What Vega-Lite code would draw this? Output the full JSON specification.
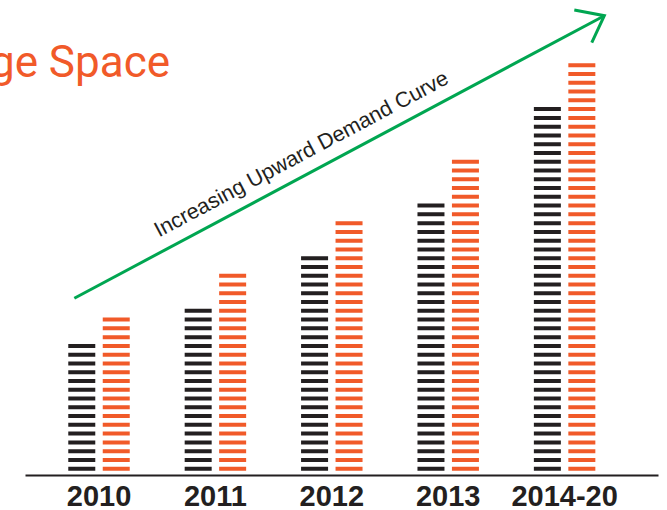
{
  "$schema": "https://vega.github.io/schema/vega-lite/v6.json",
  "width": 633,
  "height": 475,
  "autosize": "none",
  "padding": {"left": 25, "top": 0, "right": 9, "bottom": 35},
  "background": "white",
  "title": {
    "text": "Storage Space",
    "anchor": "start",
    "frame": "group",
    "align": "right",
    "baseline": "alphabetic",
    "dx": 145,
    "dy": 121,
    "offset": 0,
    "font": "Roboto",
    "fontSize": 44,
    "fontWeight": "normal",
    "color": "#f15a29"
  },
  "datasets": {
    "bars": [
      {"year": "2010", "series": "A", "dashes": 15},
      {"year": "2010", "series": "B", "dashes": 18},
      {"year": "2011", "series": "A", "dashes": 19},
      {"year": "2011", "series": "B", "dashes": 23},
      {"year": "2012", "series": "A", "dashes": 25},
      {"year": "2012", "series": "B", "dashes": 29},
      {"year": "2013", "series": "A", "dashes": 31},
      {"year": "2013", "series": "B", "dashes": 36},
      {"year": "2014-20", "series": "A", "dashes": 42},
      {"year": "2014-20", "series": "B", "dashes": 47}
    ],
    "arrow": [
      {"part": "shaft", "ord": 0, "xi": -0.212, "v": 20.15},
      {"part": "shaft", "ord": 1, "xi": 4.341, "v": 52.37},
      {"part": "head", "ord": 0, "xi": 4.083, "v": 53.02},
      {"part": "head", "ord": 1, "xi": 4.341, "v": 52.37},
      {"part": "head", "ord": 2, "xi": 4.233, "v": 49.29}
    ],
    "label": [
      {"text": "Increasing Upward Demand Curve", "xi": 1.765, "v": 35.9}
    ]
  },
  "layer": [
    {
      "data": {"name": "bars"},
      "mark": {"type": "rule", "strokeWidth": 27, "strokeDash": [4, 4.77], "strokeDashOffset": 8.3, "strokeCap": "butt"},
      "encoding": {
        "x": {
          "field": "year", "type": "nominal", "sort": null,
          "scale": {"paddingInner": 0.467, "paddingOuter": 0.4526, "align": 0.408},
          "axis": {
            "title": null, "labelAngle": 0, "ticks": false, "labelPadding": 7,
            "labelFont": "Liberation Sans", "labelFontWeight": "bold", "labelFontSize": 29,
            "labelColor": "#231f20", "domainColor": "#231f20", "domainWidth": 2, "grid": false
          }
        },
        "xOffset": {"field": "series", "type": "nominal", "sort": ["A", "B"], "scale": {"paddingInner": 0.2, "paddingOuter": 0}},
        "y": {"field": "dashes", "type": "quantitative", "scale": {"domain": [0, 54.16], "nice": false, "zero": false}, "axis": null},
        "y2": {"datum": 0},
        "color": {"field": "series", "type": "nominal", "scale": {"domain": ["A", "B"], "range": ["#231f20", "#f15a29"]}, "legend": null}
      }
    },
    {
      "data": {"name": "arrow"},
      "mark": {"type": "line", "stroke": "#00a651", "strokeWidth": 3, "strokeJoin": "miter", "strokeCap": "butt"},
      "encoding": {
        "x": {"field": "xi", "type": "quantitative", "scale": {"domain": [-0.636, 4.802], "nice": false, "zero": false}, "axis": null},
        "y": {"field": "v", "type": "quantitative", "scale": {"domain": [0, 54.16], "nice": false, "zero": false}, "axis": null},
        "detail": {"field": "part"},
        "order": {"field": "ord"}
      }
    },
    {
      "data": {"name": "label"},
      "mark": {"type": "text", "angle": -28, "align": "center", "baseline": "alphabetic", "font": "Liberation Sans", "fontSize": 21.5, "color": "#231f20"},
      "encoding": {
        "x": {"field": "xi", "type": "quantitative", "scale": {"domain": [-0.636, 4.802], "nice": false, "zero": false}, "axis": null},
        "y": {"field": "v", "type": "quantitative", "scale": {"domain": [0, 54.16], "nice": false, "zero": false}, "axis": null},
        "text": {"field": "text"}
      }
    }
  ],
  "resolve": {"scale": {"x": "independent"}},
  "config": {"view": {"stroke": null}}
}
